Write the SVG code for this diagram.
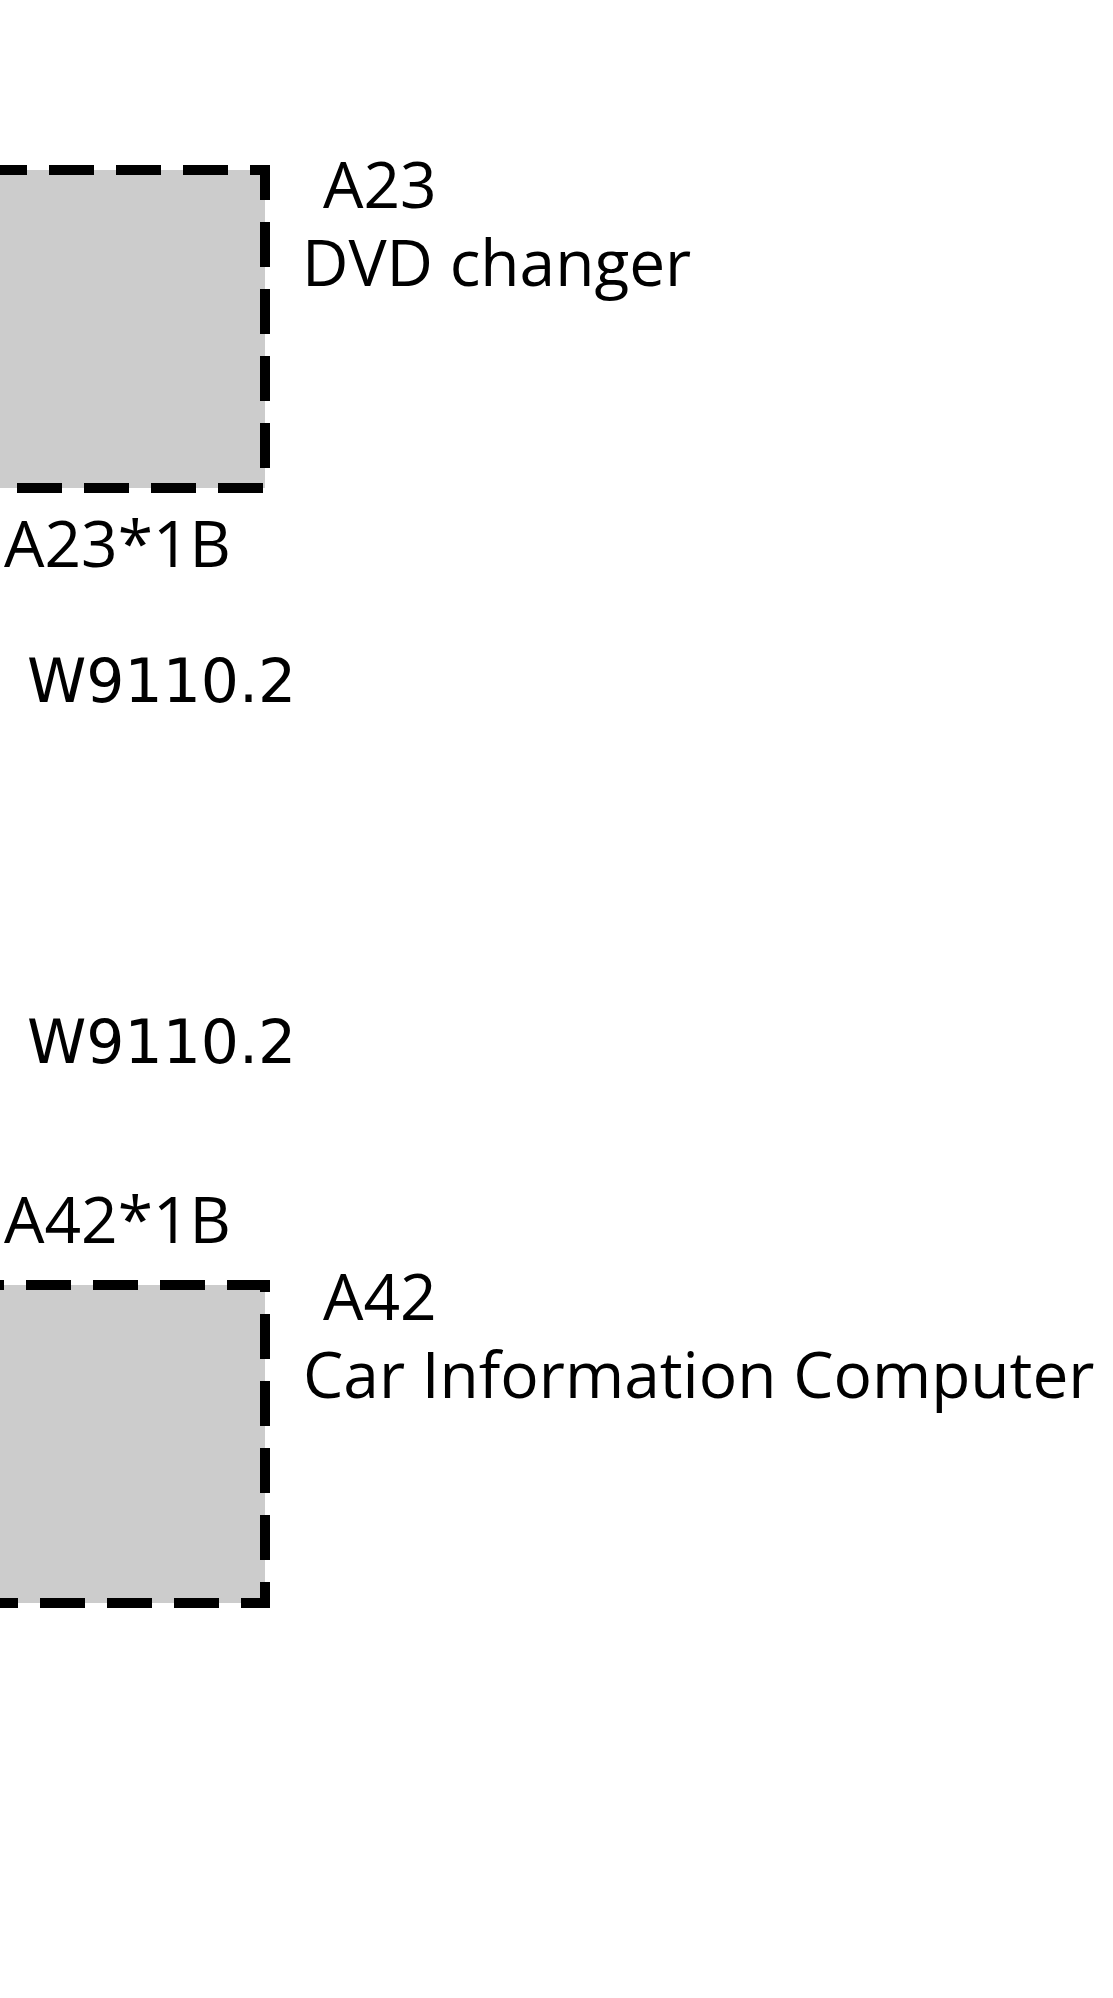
<svg xmlns="http://www.w3.org/2000/svg" width="1113" height="1998" viewBox="0 0 1113 1998">
<style>
.fill{fill:#cccccc;stroke:none}
.edge{fill:none;stroke:#000;stroke-width:10;stroke-dasharray:45 22;stroke-linejoin:miter}
.lbl{font-family:"Open Sans","Noto Sans","Liberation Sans",sans-serif;font-size:64px;fill:#000}
.wire{font-family:"DejaVu Sans","Liberation Sans",sans-serif;font-size:60px;fill:#000}
</style>
<rect width="1113" height="1998" fill="#fff"/>
<g id="A23">
<rect class="fill" x="-20" y="170" width="285" height="318"/>
<path class="edge" d="M -18,170 H 265 V 488 H -40"/>
<text class="lbl" x="323" y="208">A23</text>
<text class="lbl" x="302" y="286">DVD changer</text>
<text class="lbl" x="4" y="567">A23*1B</text>
</g>
<g id="connectors">
<text class="wire" x="27" y="702">W9110.2</text>
<text class="wire" x="27" y="1063">W9110.2</text>
</g>
<g id="A42">
<rect class="fill" x="-20" y="1285" width="285" height="318"/>
<path class="edge" d="M -41,1285 H 265 V 1603 H -40"/>
<text class="lbl" x="4" y="1243">A42*1B</text>
<text class="lbl" x="323" y="1320">A42</text>
<text class="lbl" x="303" y="1398">Car Information Computer</text>
</g>
</svg>
